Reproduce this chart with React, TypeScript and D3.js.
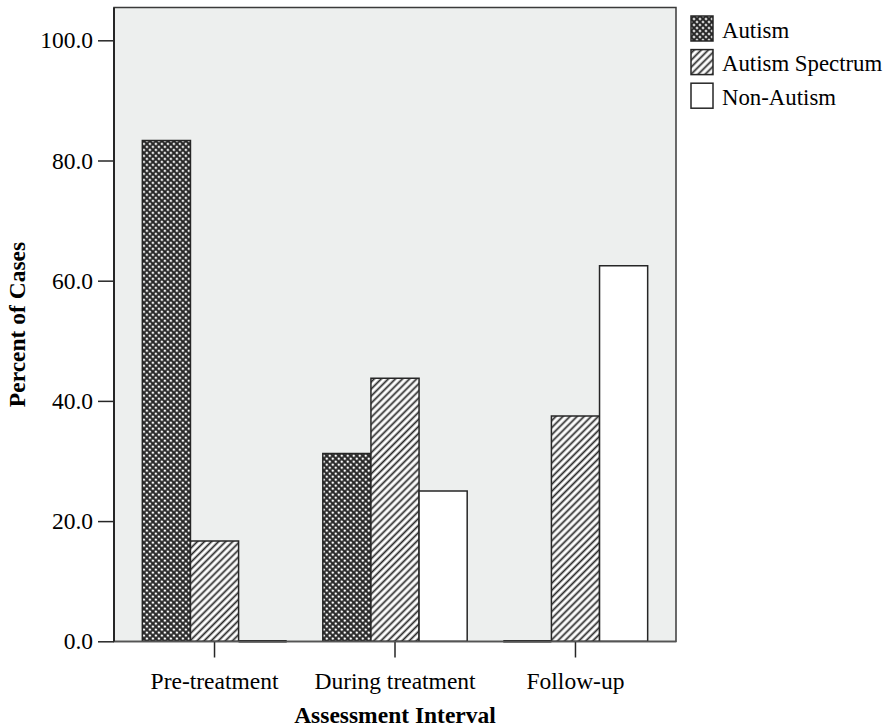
import React, { useEffect, useRef } from 'react'
import * as d3 from 'd3'

// data
const intervals = ['Pre-treatment', 'During treatment', 'Follow-up']
const diagnoses = ['Autism', 'Autism Spectrum', 'Non-Autism']
const autism = [83.33, 31.25, 0]
const autismSpectrum = [16.67, 43.75, 37.5]
const nonAutism = [0, 25.0, 62.5]
const yTicks = [0, 20, 40, 60, 80, 100]

const W = 891
const H = 727
const FONT = '"Liberation Serif", "Times New Roman", serif'
const INK = '#262626'

const App: React.FC = () => {
  const ref = useRef<SVGSVGElement>(null)

  useEffect(() => {
    const svg = d3.select(ref.current)
    svg.selectAll('*').remove()

    const plot = { left: 114, right: 676, top: 7.5, bottom: 641.5 }

    const x0 = d3
      .scaleBand<string>()
      .domain(intervals)
      .range([plot.left, plot.right])
      .paddingInner(0.2)
      .paddingOuter(0.157)
    const x1 = d3.scaleBand<string>().domain(diagnoses).range([0, x0.bandwidth()])
    const y = d3.scaleLinear().domain([0, 100]).range([641.3, 40.3])

    const defs = svg.append('defs')
    // cross hatch (Autism)
    const cross = defs
      .append('pattern')
      .attr('id', 'pat-cross')
      .attr('patternUnits', 'userSpaceOnUse')
      .attr('width', 4.24)
      .attr('height', 4.24)
      .attr('patternTransform', 'rotate(45)')
    cross.append('rect').attr('width', 4.24).attr('height', 4.24).attr('fill', '#fff')
    cross
      .append('path')
      .attr('d', 'M0,2.12H4.24M2.12,0V4.24')
      .attr('stroke', INK)
      .attr('stroke-width', 2)
    // diagonal hatch (Autism Spectrum)
    const diag = defs
      .append('pattern')
      .attr('id', 'pat-diag')
      .attr('patternUnits', 'userSpaceOnUse')
      .attr('width', 5)
      .attr('height', 5)
      .attr('patternTransform', 'rotate(45)')
    diag.append('rect').attr('width', 5).attr('height', 5).attr('fill', '#fff')
    diag
      .append('path')
      .attr('d', 'M2.5,0V5')
      .attr('stroke', INK)
      .attr('stroke-width', 1.75)

    const fills = ['url(#pat-cross)', 'url(#pat-diag)', '#ffffff']
    const color = d3.scaleOrdinal<string, string>().domain(diagnoses).range(fills)

    // plot area
    svg
      .append('rect')
      .attr('x', plot.left)
      .attr('y', plot.top)
      .attr('width', plot.right - plot.left)
      .attr('height', plot.bottom - plot.top)
      .attr('fill', '#edefee')
      .attr('stroke', '#3a3a3a')
      .attr('stroke-width', 1.5)

    const series = [autism, autismSpectrum, nonAutism]
    const rows = intervals.flatMap((cat, i) =>
      diagnoses.map((d, j) => ({ cat, d, v: series[j][i] }))
    )

    const bars = svg.append('g')
    bars
      .selectAll('path')
      .data(rows)
      .join('path')
      .attr('d', (r) => {
        const bx = (x0(r.cat) ?? 0) + (x1(r.d) ?? 0)
        const bw = x1.bandwidth()
        const by = y(r.v)
        const b0 = y(0)
        return `M${bx},${b0}V${by}H${bx + bw}V${b0}Z`
      })
      .attr('fill', (r) => color(r.d))
      .attr('stroke', INK)
      .attr('stroke-width', (r) => (r.v === 0 ? 2.5 : 1.5))

    // x axis
    const xAxis = svg
      .append('g')
      .attr('transform', `translate(0,${plot.bottom})`)
      .call(d3.axisBottom(x0).tickSize(16).tickPadding(15))
    xAxis.select('.domain').remove()
    xAxis.selectAll('line').attr('stroke', INK).attr('stroke-width', 1.5)
    xAxis
      .selectAll('text')
      .attr('fill', '#000')
      .attr('font-family', FONT)
      .attr('font-size', 23.5)
    svg
      .append('line')
      .attr('x1', plot.left)
      .attr('x2', plot.right)
      .attr('y1', plot.bottom)
      .attr('y2', plot.bottom)
      .attr('stroke', '#555')
      .attr('stroke-width', 1.5)

    // y axis
    const yAxis = svg
      .append('g')
      .attr('transform', `translate(${plot.left},0)`)
      .call(
        d3
          .axisLeft(y)
          .tickValues(yTicks)
          .tickSize(16)
          .tickPadding(5)
          .tickFormat(d3.format('.1f'))
      )
    yAxis.select('.domain').remove()
    yAxis.selectAll('line').attr('stroke', INK).attr('stroke-width', 1.5)
    yAxis
      .selectAll('text')
      .attr('fill', '#000')
      .attr('font-family', FONT)
      .attr('font-size', 23.5)
    svg
      .append('line')
      .attr('x1', plot.left)
      .attr('x2', plot.left)
      .attr('y1', plot.top)
      .attr('y2', plot.bottom)
      .attr('stroke', INK)
      .attr('stroke-width', 2)

    // axis titles
    svg
      .append('text')
      .attr('x', (plot.left + plot.right) / 2)
      .attr('y', 723)
      .attr('text-anchor', 'middle')
      .attr('font-family', FONT)
      .attr('font-size', 23.5)
      .attr('font-weight', 'bold')
      .text('Assessment Interval')
    svg
      .append('text')
      .attr('transform', `translate(25,${(plot.top + plot.bottom) / 2}) rotate(-90)`)
      .attr('text-anchor', 'middle')
      .attr('font-family', FONT)
      .attr('font-size', 23.5)
      .attr('font-weight', 'bold')
      .text('Percent of Cases')

    // legend
    const legend = svg
      .append('g')
      .selectAll('g')
      .data(diagnoses)
      .join('g')
      .attr('transform', (_, i) => `translate(691,${16 + i * 33.6})`)
    legend
      .append('rect')
      .attr('width', 22)
      .attr('height', 25)
      .attr('fill', (d) => color(d))
      .attr('stroke', INK)
      .attr('stroke-width', 1.5)
    legend
      .append('text')
      .attr('x', 31)
      .attr('y', 21.5)
      .attr('font-family', FONT)
      .attr('font-size', 22.8)
      .attr('fill', '#000')
      .text((d) => d)
  }, [])

  return (
    <svg
      ref={ref}
      width={W}
      height={H}
      style={{ position: 'absolute', left: 0, top: 0, background: '#fff' }}
    />
  )
}

export default App
